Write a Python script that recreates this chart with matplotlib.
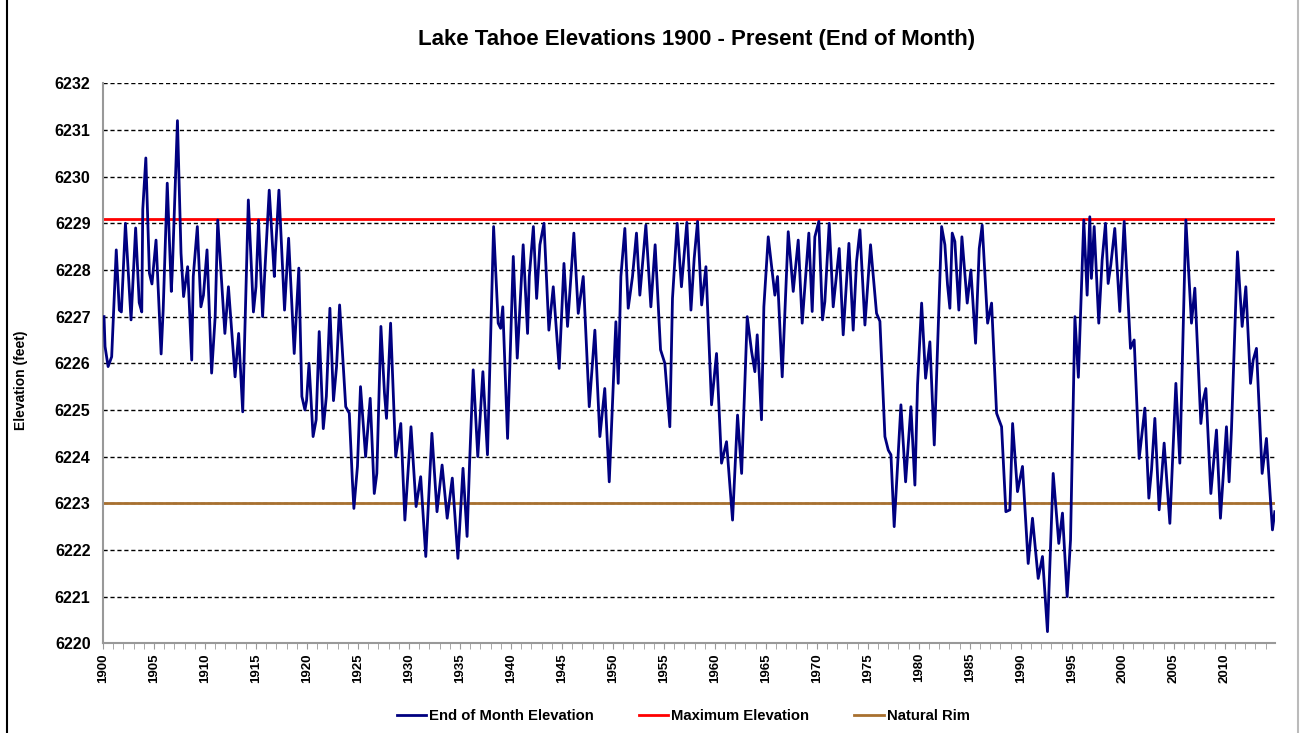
import matplotlib.pyplot as plt
from matplotlib.ticker import MultipleLocator
from matplotlib.lines import Line2D

# vertices of the end-of-month curve (decimal year, feet)
anos = [
    1900.1, 1900.2, 1900.5, 1900.85, 1901.3, 1901.6, 1901.8, 1902.2, 1902.75, 1903.2,
    1903.55, 1903.8, 1903.9, 1904.2, 1904.55, 1904.8, 1905.2, 1905.7, 1905.9, 1906.3,
    1906.7, 1906.8, 1907.3, 1907.65, 1907.9, 1908.3, 1908.7, 1908.85, 1909.25, 1909.6,
    1909.85, 1910.2, 1910.65, 1911.0, 1911.25, 1911.95, 1912.3, 1912.95, 1913.3, 1913.7,
    1914.25, 1914.75, 1915.0, 1915.25, 1915.65, 1915.9, 1916.3, 1916.8, 1916.9, 1917.25,
    1917.8, 1918.2, 1918.75, 1919.2, 1919.5, 1919.8, 1919.96, 1920.2, 1920.6, 1920.9,
    1921.2, 1921.6, 1921.9, 1922.25, 1922.6, 1922.9, 1923.2, 1923.8, 1924.15, 1924.45,
    1924.6, 1924.95, 1925.25, 1925.75, 1926.2, 1926.6, 1926.85, 1927.25, 1927.6, 1927.8,
    1928.2, 1928.7, 1929.2, 1929.6, 1930.2, 1930.7, 1931.15, 1931.65, 1932.25, 1932.75,
    1933.25, 1933.75, 1934.25, 1934.8, 1935.3, 1935.7, 1935.95, 1936.3, 1936.75, 1937.25,
    1937.7, 1938.3, 1938.75, 1938.99, 1939.2, 1939.67, 1940.23, 1940.62, 1941.2, 1941.63,
    1941.8, 1942.2, 1942.52, 1942.84, 1943.24, 1943.72, 1944.15, 1944.73, 1945.2, 1945.55,
    1946.17, 1946.6, 1947.09, 1947.68, 1948.23, 1948.72, 1949.2, 1949.64, 1950.29, 1950.52,
    1950.78, 1951.17, 1951.5, 1951.92, 1952.31, 1952.64, 1953.23, 1953.72, 1954.14, 1954.67,
    1955.09, 1955.58, 1955.84, 1956.3, 1956.72, 1957.25, 1957.65, 1957.97, 1958.3, 1958.7,
    1959.12, 1959.67, 1960.16, 1960.65, 1961.14, 1961.73, 1962.22, 1962.62, 1963.17, 1963.6,
    1963.92, 1964.15, 1964.57, 1964.8, 1965.23, 1965.88, 1966.14, 1966.6, 1967.19, 1967.68,
    1968.17, 1968.56, 1969.21, 1969.54, 1969.8, 1970.19, 1970.55, 1970.78, 1971.21, 1971.6,
    1972.19, 1972.58, 1973.14, 1973.56, 1973.89, 1974.22, 1974.71, 1975.26, 1975.85, 1976.18,
    1976.67, 1977.0, 1977.26, 1977.58, 1978.24, 1978.7, 1979.22, 1979.61, 1979.87, 1980.27,
    1980.66, 1981.08, 1981.51, 1982.23, 1982.55, 1982.81, 1983.04, 1983.27, 1983.53, 1983.92,
    1984.22, 1984.74, 1985.1, 1985.56, 1985.92, 1986.21, 1986.74, 1987.13, 1987.62, 1988.11,
    1988.53, 1988.92, 1989.19, 1989.67, 1990.16, 1990.72, 1991.14, 1991.7, 1992.12, 1992.61,
    1993.17, 1993.72, 1994.08, 1994.54, 1994.87, 1995.3, 1995.64, 1996.17, 1996.5, 1996.76,
    1996.92, 1997.19, 1997.64, 1997.97, 1998.3, 1998.56, 1998.82, 1999.21, 1999.7, 2000.13,
    2000.75, 2001.11, 2001.6, 2002.16, 2002.55, 2002.81, 2003.14, 2003.56, 2004.05, 2004.61,
    2005.2, 2005.59, 2006.18, 2006.73, 2007.06, 2007.65, 2007.88, 2008.14, 2008.63, 2009.18,
    2009.57, 2010.16, 2010.42, 2010.65, 2011.24, 2011.7, 2012.06, 2012.52, 2012.78, 2013.1,
    2013.66, 2014.08, 2014.67, 2014.9,
]
elevacao = [
    6227.0, 6226.36, 6225.93, 6226.14, 6228.43, 6227.14, 6227.1, 6229.0, 6226.93, 6228.9,
    6227.3, 6227.1, 6229.3, 6230.4, 6227.93, 6227.7, 6228.64, 6226.2, 6227.14, 6229.86,
    6227.54, 6228.0, 6231.2, 6228.36, 6227.43, 6228.07, 6226.07, 6227.86, 6228.93, 6227.21,
    6227.46, 6228.43, 6225.79, 6227.0, 6229.07, 6226.64, 6227.64, 6225.71, 6226.64, 6224.96,
    6229.5, 6227.1, 6227.64, 6229.07, 6227.0, 6228.1, 6229.71, 6227.86, 6228.36, 6229.71,
    6227.14, 6228.68, 6226.21, 6228.04, 6225.29, 6225.0, 6225.2, 6226.0, 6224.43, 6224.79,
    6226.68, 6224.6, 6225.29, 6227.18, 6225.2, 6225.93, 6227.25, 6225.07, 6224.93, 6223.5,
    6222.89, 6223.79, 6225.5, 6224.0, 6225.25, 6223.21, 6223.64, 6226.79, 6225.36, 6224.82,
    6226.86, 6224.0, 6224.71, 6222.64, 6224.64, 6222.93, 6223.57, 6221.86, 6224.5, 6222.82,
    6223.82, 6222.68, 6223.54, 6221.82, 6223.75, 6222.29, 6223.89, 6225.86, 6224.0, 6225.82,
    6224.04, 6228.93, 6226.86, 6226.75, 6227.21, 6224.39, 6228.29, 6226.11, 6228.54, 6226.64,
    6227.86, 6228.93, 6227.39, 6228.54, 6229.0, 6226.71, 6227.64, 6225.89, 6228.14, 6226.79,
    6228.79, 6227.07, 6227.86, 6225.07, 6226.71, 6224.43, 6225.46, 6223.46, 6226.89, 6225.57,
    6227.86, 6228.89, 6227.18, 6227.86, 6228.79, 6227.46, 6228.96, 6227.21, 6228.54, 6226.29,
    6226.0, 6224.64, 6227.39, 6229.0, 6227.64, 6229.02, 6227.14, 6228.25, 6229.04, 6227.25,
    6228.07, 6225.11, 6226.21, 6223.86, 6224.32, 6222.64, 6224.89, 6223.64, 6227.0, 6226.25,
    6225.82, 6226.61, 6224.79, 6227.21, 6228.71, 6227.46, 6227.86, 6225.71, 6228.82, 6227.54,
    6228.64, 6226.86, 6228.79, 6227.11, 6228.71, 6229.04, 6226.93, 6227.32, 6229.0, 6227.21,
    6228.46, 6226.61, 6228.57, 6226.71, 6228.18, 6228.86, 6226.82, 6228.54, 6227.07, 6226.9,
    6224.43, 6224.14, 6224.04, 6222.5, 6225.11, 6223.46, 6225.07, 6223.39, 6225.54, 6227.29,
    6225.68, 6226.46, 6224.25, 6228.93, 6228.54, 6227.68, 6227.18, 6228.79, 6228.61, 6227.14,
    6228.71, 6227.29, 6228.0, 6226.43, 6228.46, 6228.96, 6226.86, 6227.29, 6224.93, 6224.64,
    6222.82, 6222.86, 6224.71, 6223.25, 6223.79, 6221.71, 6222.68, 6221.39, 6221.86, 6220.25,
    6223.64, 6222.14, 6222.79, 6221.0, 6222.21, 6227.0, 6225.7, 6229.07, 6227.46, 6229.14,
    6227.82, 6228.93, 6226.86, 6228.21, 6229.0, 6227.71, 6228.11, 6228.89, 6227.11, 6229.04,
    6226.32, 6226.5, 6223.96, 6225.04, 6223.11, 6223.71, 6224.82, 6222.86, 6224.29, 6222.57,
    6225.57, 6223.86, 6229.07, 6226.86, 6227.61, 6224.71, 6225.21, 6225.46, 6223.21, 6224.57,
    6222.68, 6224.64, 6223.46, 6224.57, 6228.39, 6226.79, 6227.64, 6225.57, 6226.07, 6226.32,
    6223.64, 6224.39, 6222.43, 6222.82,
]

elevacao_maxima = 6229.1
borda_natural = 6223.0

cor_serie = '#000080'
cor_max = '#FF0000'
cor_borda = '#A8702F'

plt.rcParams['font.family'] = ['Liberation Sans', 'DejaVu Sans']
plt.rcParams['font.weight'] = 'bold'

fig = plt.figure(figsize=(13.01, 7.33), dpi=100)
ax = fig.add_axes([103 / 1301, 1 - 643.3 / 733, (1275 - 103) / 1301, (643.3 - 83.3) / 733])

# grade tracejada atrás das linhas
for v in range(6221, 6233):
    ax.axhline(v, color='black', lw=1.0, ls=(0, (3, 2)), zorder=1)

ax.axhline(elevacao_maxima, color=cor_max, lw=2.0, zorder=2)
ax.axhline(borda_natural, color=cor_borda, lw=2.0, zorder=2)
ax.plot(anos, elevacao, color=cor_serie, lw=2.0, zorder=3)

ax.set_xlim(1900, 2014.92)
ax.set_ylim(6220, 6232)
ax.xaxis.set_minor_locator(MultipleLocator(1))
ax.set_xticks(range(1900, 2015, 5))
ax.set_xticklabels([str(a) for a in range(1900, 2015, 5)], rotation=90, fontsize=9.5, fontweight='bold')
ax.set_yticks(range(6220, 6233))
ax.set_yticklabels([str(v) for v in range(6220, 6233)], fontsize=11.5, fontweight='bold')
ax.tick_params(axis='x', which='both', length=4, color='#999999', direction='out', pad=3)
ax.tick_params(axis='y', length=0, pad=9)

for lado in ['top', 'right']:
    ax.spines[lado].set_visible(False)
for lado in ['left', 'bottom']:
    ax.spines[lado].set_color('#999999')
    ax.spines[lado].set_linewidth(1.5)

ax.set_ylabel('Elevation (feet)', fontsize=10, fontweight='bold')
ax.yaxis.set_label_coords(-0.064, 0.47)

fig.text(697 / 1301, 1 - 40 / 733, 'Lake Tahoe Elevations 1900 - Present (End of Month)',
         ha='center', va='center', fontsize=16, fontweight='bold')

legenda = [
    Line2D([0], [0], color=cor_serie, lw=2.0),
    Line2D([0], [0], color=cor_max, lw=2.0),
    Line2D([0], [0], color=cor_borda, lw=2.0),
]
fig.legend(legenda, ['End of Month Elevation', 'Maximum Elevation', 'Natural Rim'],
           loc='center', bbox_to_anchor=(683 / 1301, 1 - 716 / 733), ncol=3, frameon=False,
           prop={'size': 10.7, 'weight': 'bold'}, handlelength=2.0, handletextpad=0.2,
           columnspacing=3.0)

# moldura do gráfico
fig.add_artist(Line2D([7 / 1301, 7 / 1301], [0, 1], color='black', lw=1.5))
fig.add_artist(Line2D([1298 / 1301, 1298 / 1301], [0, 1], color='#bbbbbb', lw=1.5))

fig.savefig('out.png', dpi=100)
